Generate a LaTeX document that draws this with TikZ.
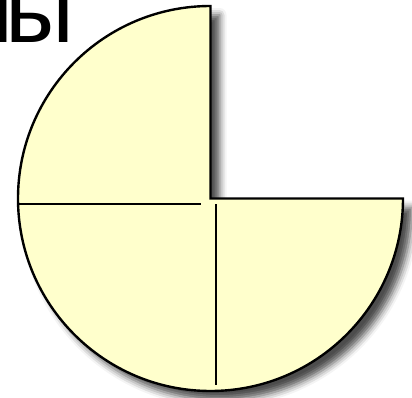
\documentclass[tikz,border=0pt]{standalone}
\usepackage{fontspec}
\setmainfont{Liberation Sans}
\usetikzlibrary{shadows.blur}
\definecolor{pieyellow}{HTML}{FFFFCC}
\tikzset{
  piece/.style={fill=pieyellow, draw=black, line width=2.4pt, line join=miter},
  divider/.style={draw=black, line width=2pt},
  pieshadow/.style={blur shadow={shadow xshift=9pt, shadow yshift=-9pt, shadow blur radius=7pt, shadow opacity=70}}
}
\begin{document}
\begin{tikzpicture}[x=1pt,y=1pt]
\useasboundingbox (0,0) rectangle (412,397);
\clip (0,0) rectangle (412,397);
\node[anchor=base east, inner sep=0pt, font=\fontsize{96}{100}\selectfont] (title) at (75,354) {м\kern-8ptы};
\coordinate (c) at (210.5,198.5);
\path[piece, pieshadow] (c) ++(0,192.5) -- (c) -- ++(192.5,0) arc[start angle=0, end angle=-270, radius=192.5] -- cycle;
\coordinate (hl) at (18.1,193);
\coordinate (hr) at (201,193);
\coordinate (vt) at (216,193);
\coordinate (vb) at (216,12);
\draw[divider] (hl) -- (hr);
\draw[divider] (vt) -- (vb);
\end{tikzpicture}
\end{document}
